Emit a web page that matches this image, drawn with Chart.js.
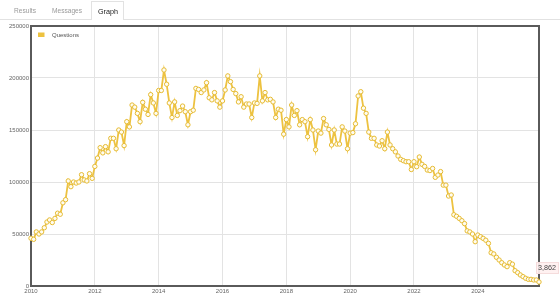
<!DOCTYPE html>
<html>
<head>
<meta charset="utf-8">
<script src="https://cdn.jsdelivr.net/npm/chart.js@4.4.1/dist/chart.umd.min.js"></script>
<style>
  body { margin: 0; background: #fff; font-family: "Liberation Sans", Arial, sans-serif; }
  #wrap { position: relative; width: 560px; height: 298px; overflow: hidden; }
  #chart { position: absolute; left: 0; top: 0; }
  .rule { position: absolute; left: 0; top: 19px; width: 560px; height: 1px; background: #e2e2e2; }
  .tab { position: absolute; top: 6px; font-size: 6.6px; line-height: 9px; color: #9a9a9a; }
  .active { position: absolute; left: 91px; top: 1px; width: 33px; height: 19px; border: 1px solid #e2e2e2;
            border-bottom: none; background: #fff; box-sizing: border-box; }
  .active span { position: absolute; left: 6px; top: 5px; font-size: 7.2px; line-height: 9px; color: #222; }
</style>
</head>
<body>
<div id="wrap">
  <canvas id="chart" width="560" height="298"></canvas>
  <div class="rule"></div>
  <span class="tab" style="left:14px">Results</span>
  <span class="tab" style="left:52px">Messages</span>
  <div class="active"><span>Graph</span></div>
</div>
<script>
const startYear = 2010;
const seriesName = "Questions";
const lastLabel = "3,862";
const yearTicks = [2010, 2012, 2014, 2016, 2018, 2020, 2022, 2024];
const yTicks = [0, 50000, 100000, 150000, 200000, 250000];

// monthly question counts, Jan 2010 .. Dec 2025 (one row per year)
const questions = [
  45900, 44900, 52000, 50000, 52000, 56000, 61500, 63500, 61000, 65000, 70000, 69000,
  80000, 83000, 101000, 95500, 100000, 99000, 100000, 107000, 102000, 101000, 108000, 103500,
  115000, 123000, 133000, 128000, 134000, 129000, 142000, 142000, 132000, 150000, 148000, 135000,
  158000, 153000, 174000, 172000, 166000, 158000, 176600, 170000, 165000, 184000, 176000, 166000,
  188000, 188000, 207700, 194000, 176000, 162000, 177000, 164000, 168600, 173000, 167600, 155000,
  167600, 169000, 190000, 189000, 186000, 188500, 195500, 181000, 179000, 186000, 178000, 172000,
  178000, 188500, 202000, 196500, 189000, 185000, 177000, 182000, 172000, 175000, 175000, 162000,
  176000, 175600, 202000, 178000, 186000, 179000, 179500, 177000, 162000, 170000, 169000, 146000,
  160000, 153000, 174000, 164000, 168600, 155000, 160000, 158000, 143600, 160000, 150000, 131000,
  149000, 147000, 161000, 155000, 150600, 135600, 150000, 136500, 136500, 153000, 149000, 132000,
  147000, 147500, 156000, 182700, 186800, 171000, 166000, 148000, 142000, 142000, 135600, 134600,
  139700, 132000, 148000, 135600, 132000, 129000, 125000, 121800, 120500, 119500, 119500, 112000,
  119500, 114700, 124000, 117000, 115000, 111500, 111000, 113000, 104500, 106700, 110000, 97000,
  97000, 86500, 87500, 68500, 67000, 65000, 62800, 60000, 53000, 52000, 50000, 42600,
  49000, 47400, 45800, 44000, 41000, 32000, 30800, 27600, 25000, 22400, 20200, 18600,
  22400, 21000, 14700, 12800, 10600, 9000, 7400, 6400, 6400, 5800, 5800, 3862
];

const points = questions.map((v, i) => ({ x: startYear + i / 12, y: v }));
const font = '"Liberation Sans", Arial, sans-serif';

const frame = {
  id: "frame",
  beforeDatasetsDraw(chart) {
    const { ctx, chartArea: a } = chart;
    ctx.save();
    ctx.strokeStyle = "#5a5a5a";
    ctx.lineWidth = 2;
    ctx.strokeRect(a.left, a.top, a.right - a.left, a.bottom - a.top);
    // legend
    ctx.fillStyle = "#edc240";
    ctx.fillRect(a.left + 7, a.top + 6.5, 6.5, 4.5);
    ctx.fillStyle = "#545454";
    ctx.font = "6px " + font;
    ctx.textBaseline = "middle";
    ctx.fillText(seriesName, a.left + 21, a.top + 9.5);
    ctx.restore();
  },
  afterDatasetsDraw(chart) {
    const { ctx } = chart;
    const meta = chart.getDatasetMeta(0);
    const pt = meta.data[meta.data.length - 1];
    ctx.save();
    ctx.font = "7.2px " + font;
    const w = ctx.measureText(lastLabel).width;
    const x = pt.x - 1, y = pt.y - 14;
    ctx.fillStyle = "rgba(255,240,240,0.9)";
    ctx.strokeStyle = "#f5dcdc";
    ctx.lineWidth = 1;
    ctx.fillRect(x - 1.5, y - 5.5, w + 4, 11);
    ctx.strokeRect(x - 1.5, y - 5.5, w + 4, 11);
    ctx.fillStyle = "#444";
    ctx.textBaseline = "middle";
    ctx.fillText(lastLabel, x, y);
    ctx.restore();
  }
};

new Chart(document.getElementById("chart").getContext("2d"), {
  type: "line",
  data: {
    datasets: [
      {
        label: seriesName,
        data: points,
        borderColor: "#edc240",
        borderWidth: 1.8,
        pointRadius: 2.2,
        pointBorderWidth: 1,
        pointBackgroundColor: "#fffcf0",
        pointBorderColor: "#e6bb33",
        tension: 0,
        clip: 6,
      },
    ],
  },
  options: {
    responsive: false,
    animation: false,
    layout: { padding: { top: 26, right: 21, left: 0, bottom: 0 } },
    plugins: { legend: { display: false }, tooltip: { enabled: false } },
    scales: {
      x: {
        type: "linear",
        min: startYear,
        max: startYear + (questions.length - 1) / 12,
        afterBuildTicks: (s) => { s.ticks = yearTicks.map((v) => ({ value: v })); },
        afterFit: (s) => { s.height = 12; },
        grid: { color: "#e3e3e3", lineWidth: 1, drawTicks: false },
        border: { display: false },
        ticks: {
          padding: 2,
          maxRotation: 0,
          autoSkip: false,
          color: "#666",
          font: { family: font, size: 6 },
          callback: (v) => String(v),
        },
      },
      y: {
        min: 0,
        max: 250000,
        afterBuildTicks: (s) => { s.ticks = yTicks.map((v) => ({ value: v })); },
        afterFit: (s) => { s.width = 31; },
        grid: { color: "#e3e3e3", lineWidth: 1, drawTicks: false },
        border: { display: false },
        ticks: {
          padding: 2,
          color: "#666",
          font: { family: font, size: 6 },
          callback: (v) => String(v),
        },
      },
    },
  },
  plugins: [frame],
});
</script>
</body>
</html>
